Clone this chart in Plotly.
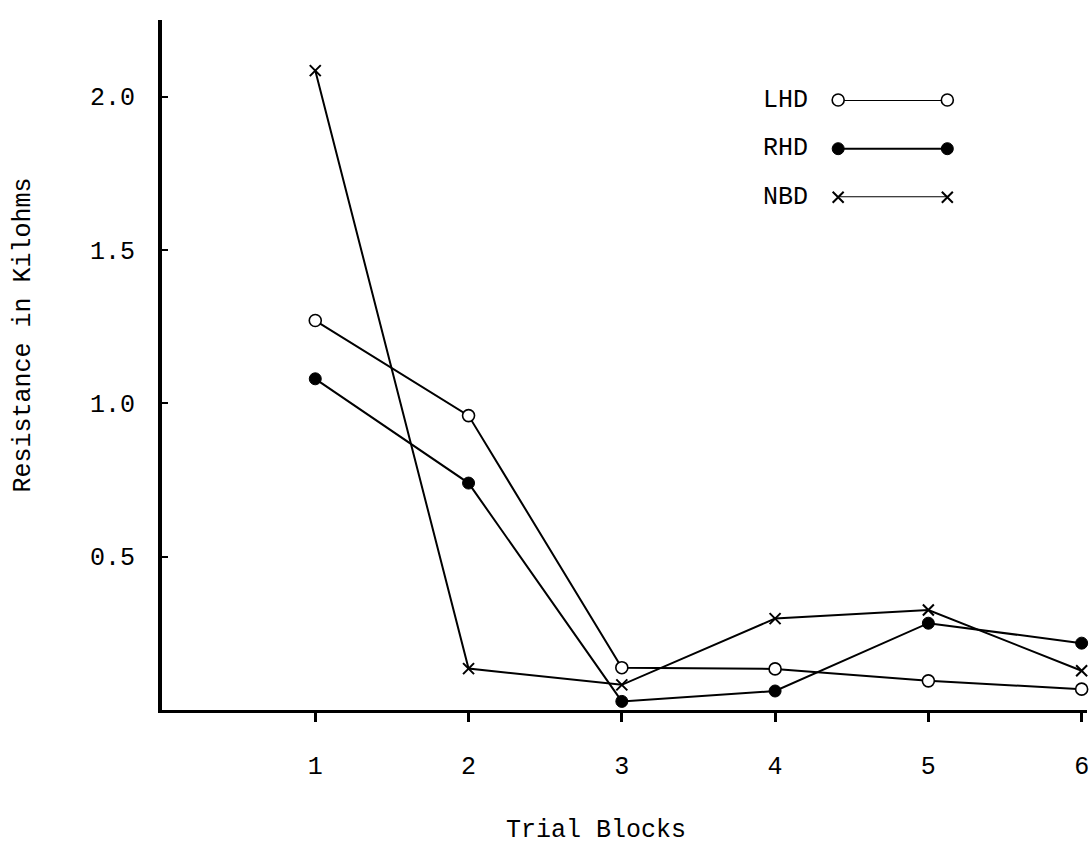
import plotly.graph_objects as go

trial_blocks = [1, 2, 3, 4, 5, 6]
lhd = [1.27, 0.96, 0.138, 0.134, 0.095, 0.068]
rhd = [1.08, 0.74, 0.028, 0.062, 0.283, 0.218]
nbd = [2.085, 0.135, 0.082, 0.298, 0.326, 0.128]
y_tick_vals = [0.5, 1.0, 1.5, 2.0]
y_tick_text = ["0.5", "1.0", "1.5", "2.0"]
x_tick_text = ["1", "2", "3", "4", "5", "6"]
legend_names = ["LHD", "RHD", "NBD"]

FONT = "Liberation Mono"
FS = 25
W, H = 1089, 847
L, R, T, B = 162, 0, 20, 137

circle_open = dict(symbol="circle", size=12, color="white", line=dict(color="black", width=1.6))
circle_fill = dict(symbol="circle", size=12, color="black", line=dict(color="black", width=1))
cross = dict(symbol="x-thin-open", size=11, color="black", line=dict(color="black", width=2))
styles = [circle_open, circle_fill, cross]
series = [lhd, rhd, nbd]

fig = go.Figure()
for name, vals, mk in zip(legend_names, series, styles):
    fig.add_trace(go.Scatter(x=trial_blocks, y=vals, mode="lines+markers", name=name,
                             line=dict(color="black", width=2), marker=mk,
                             cliponaxis=False, showlegend=False))

# custom legend in a small inset axis: text, then a line with a marker at both ends
for i, (name, mk) in enumerate(zip(legend_names, styles)):
    fig.add_trace(go.Scatter(x=[0, 1], y=[i, i], mode="lines+markers",
                             line=dict(color="black", width=2), marker=mk,
                             xaxis="x2", yaxis="y2", cliponaxis=False, showlegend=False))
    fig.add_annotation(x=0.70, y=i, xref="paper", yref="y2", text=name, showarrow=False,
                       xanchor="right", yanchor="middle",
                       font=dict(family=FONT, size=FS, color="black"))

fig.update_layout(
    width=W, height=H, autosize=False,
    margin=dict(l=L, r=R, t=T, b=B, pad=0),
    paper_bgcolor="white", plot_bgcolor="white",
    font=dict(family=FONT, size=FS, color="black"),
    xaxis=dict(range=[0, 6.035], tickvals=trial_blocks, ticktext=x_tick_text,
               showgrid=False, zeroline=False, showline=True, linecolor="black", linewidth=3,
               ticks="outside", ticklen=9, tickwidth=2.5, tickcolor="black",
               ticklabelstandoff=22, ticklabeloverflow="allow", layer="below traces",
               tickfont=dict(family=FONT, size=FS, color="black")),
    yaxis=dict(range=[0, 2.25], tickvals=y_tick_vals, ticktext=y_tick_text,
               showgrid=False, zeroline=False, showline=True, linecolor="black", linewidth=4,
               ticks="inside", ticklen=6, tickwidth=2, tickcolor="black",
               ticklabelstandoff=18, layer="below traces",
               tickfont=dict(family=FONT, size=FS, color="black")),
    xaxis2=dict(domain=[0.731, 0.849], range=[0, 1], anchor="y2", visible=False, fixedrange=True),
    yaxis2=dict(domain=[0.743, 0.884], range=[2, 0], anchor="x2", visible=False, fixedrange=True),
)

fig.add_annotation(x=0.469, y=-0.175, xref="paper", yref="paper", text="Trial Blocks",
                   showarrow=False, xanchor="center", yanchor="middle",
                   font=dict(family=FONT, size=FS, color="black"))
fig.add_annotation(x=-0.150, y=0.543, xref="paper", yref="paper", text="Resistance in Kilohms",
                   showarrow=False, xanchor="center", yanchor="middle", textangle=-90,
                   font=dict(family=FONT, size=FS, color="black"))

# remove the default page margin so the figure fills the window exactly
fig.write_html("out.html", config={"displayModeBar": False},
               post_script="document.body.style.margin='0';document.body.style.overflow='hidden';")
